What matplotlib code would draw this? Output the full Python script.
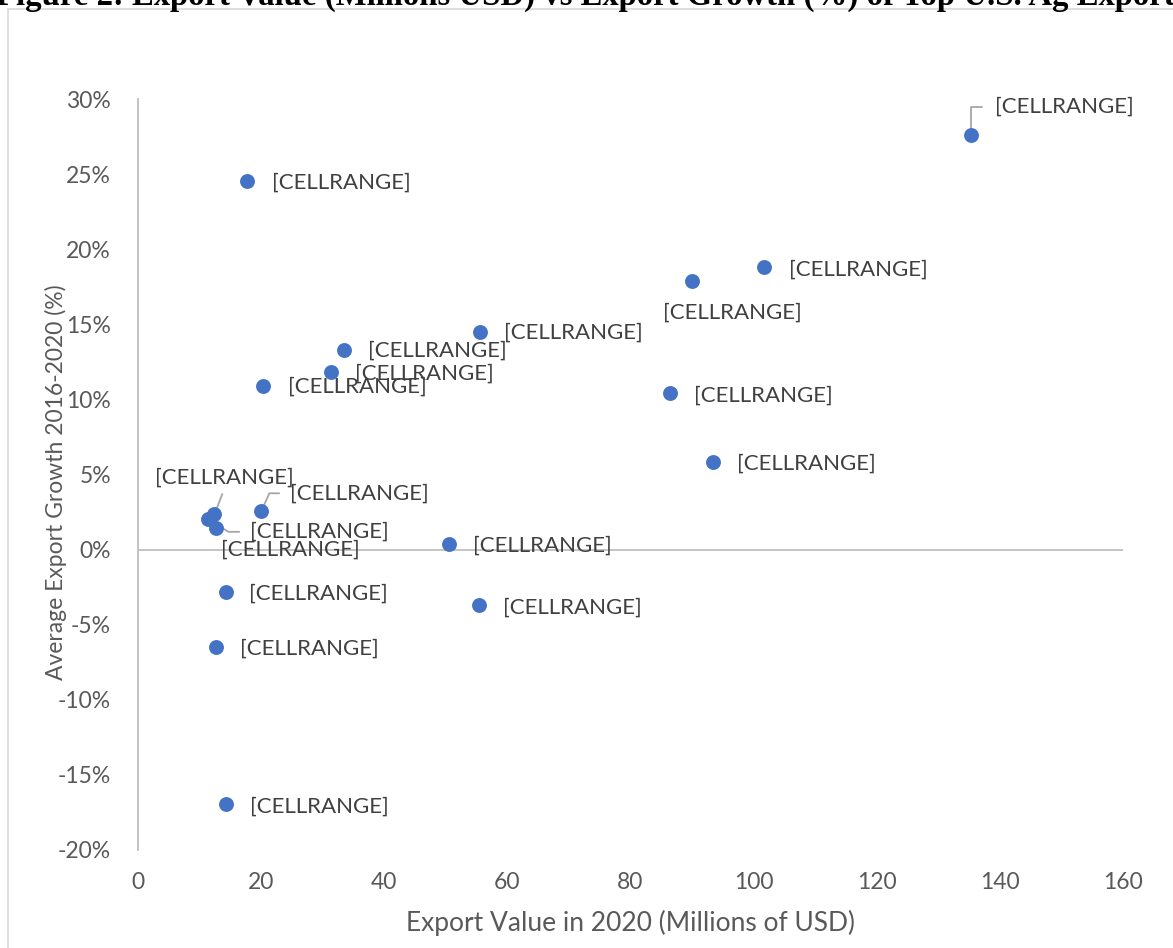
import matplotlib
matplotlib.use('Agg')
import matplotlib.pyplot as plt
from matplotlib.patches import Rectangle
from matplotlib.ticker import FuncFormatter

# data
export_value = [135.3, 17.7, 90.0, 101.7, 55.6, 33.5, 31.4, 20.4, 86.4, 93.5,
                12.5, 20.1, 11.5, 12.8, 50.5, 14.3, 55.4, 12.8, 14.4]
export_growth = [27.6, 24.55, 17.9, 18.8, 14.5, 13.3, 11.8, 10.9, 10.4, 5.8,
                 2.35, 2.55, 2.05, 1.45, 0.35, -2.85, -3.7, -6.5, -16.95]
point_labels = ['[CELLRANGE]'] * len(export_value)

x_ticks = [0, 20, 40, 60, 80, 100, 120, 140, 160]
y_ticks = [-20, -15, -10, -5, 0, 5, 10, 15, 20, 25, 30]

title = 'Figure 2: Export Value (Millions USD) vs Export Growth (%) of Top U.S. Ag Exports'

# label offsets in pixels (dx to text left, dy to text centre)
label_offsets = [(24, 28), (25, -2), (-29, -32), (25, -2), (24, -1), (24, -1),
                 (24, -1), (25, -1), (24, -2), (24, -1), (-59, 37), (29, 18),
                 (42, -13), (5, -22), (24, -1), (23, -1), (24, -2), (24, -1),
                 (24, -2)]
leaders = {
    0: dict(relpos=(0, 0.5), connectionstyle='angle,angleA=0,angleB=90,rad=0', shrinkA=7),
    10: dict(relpos=(0.5, 0), connectionstyle='arc3', shrinkA=3),
    11: dict(relpos=(0, 0.5), connectionstyle='angle,angleA=0,angleB=66,rad=0', shrinkA=6),
    12: dict(relpos=(0, 0.5), connectionstyle='angle,angleA=0,angleB=-33,rad=0', shrinkA=6),
}

W, H = 1173, 948
font = 'Lato'
fs = 16
grey_axis = '#BFBFBF'
grey_text = '#595959'

fig = plt.figure(figsize=(W / 100, H / 100), dpi=100)
ax = fig.add_axes([137.5 / W, 1 - 850 / H, (1123 - 137.5) / W, (850 - 99) / H])

ax.scatter(export_value, export_growth, s=115, color='#4472C4', linewidths=0, zorder=4)

ax.set_xlim(0, 160)
ax.set_ylim(-20, 30)
ax.set_xticks(x_ticks)
ax.set_yticks(y_ticks)
ax.yaxis.set_major_formatter(FuncFormatter(lambda v, p: f'{v:.0f}%'))

for s in ['top', 'right', 'bottom']:
    ax.spines[s].set_visible(False)
ax.spines['left'].set_color(grey_axis)
ax.spines['left'].set_linewidth(1.3)
ax.axhline(0, color=grey_axis, lw=1.3, zorder=1)

ax.tick_params(axis='both', length=0, labelsize=16.5, labelcolor=grey_text)
ax.tick_params(axis='x', pad=16)
ax.tick_params(axis='y', pad=19)
for t in ax.get_xticklabels() + ax.get_yticklabels():
    t.set_fontfamily(font)

ax.set_xlabel('Export Value in 2020 (Millions of USD)', fontsize=19, color=grey_text,
              fontfamily=font, va='center')
ax.xaxis.set_label_coords(0.5, (850 - 923) / (850 - 99))
ax.set_ylabel('Average Export Growth 2016-2020 (%)', fontsize=16.5, color=grey_text,
              fontfamily=font, va='center')
ax.yaxis.set_label_coords((56 - 137.5) / (1123 - 137.5), (850 - 482) / (850 - 99))

for i, (x, y) in enumerate(zip(export_value, export_growth)):
    dx, dy = label_offsets[i]
    arrow = None
    if i in leaders:
        arrow = dict(arrowstyle='-', color='#A6A6A6', lw=1.3, shrinkB=0, **leaders[i])
    ax.annotate(point_labels[i], (x, y), xytext=(dx, dy), textcoords='offset pixels',
                ha='left', va='center', fontsize=fs, fontfamily=font, color='#404040',
                arrowprops=arrow, zorder=3, annotation_clip=False)

fig.text(-4 / W, 1 - 5 / H, title, fontfamily='Liberation Serif', fontweight='bold',
         fontsize=23.6, ha='left', va='baseline')
fig.add_artist(Rectangle((8 / W, -0.05), 1.0, 1 - 9 / H + 0.05, transform=fig.transFigure,
                         fill=False, edgecolor='#D9D9D9', lw=1.2))

fig.savefig('out.png', dpi=100)
